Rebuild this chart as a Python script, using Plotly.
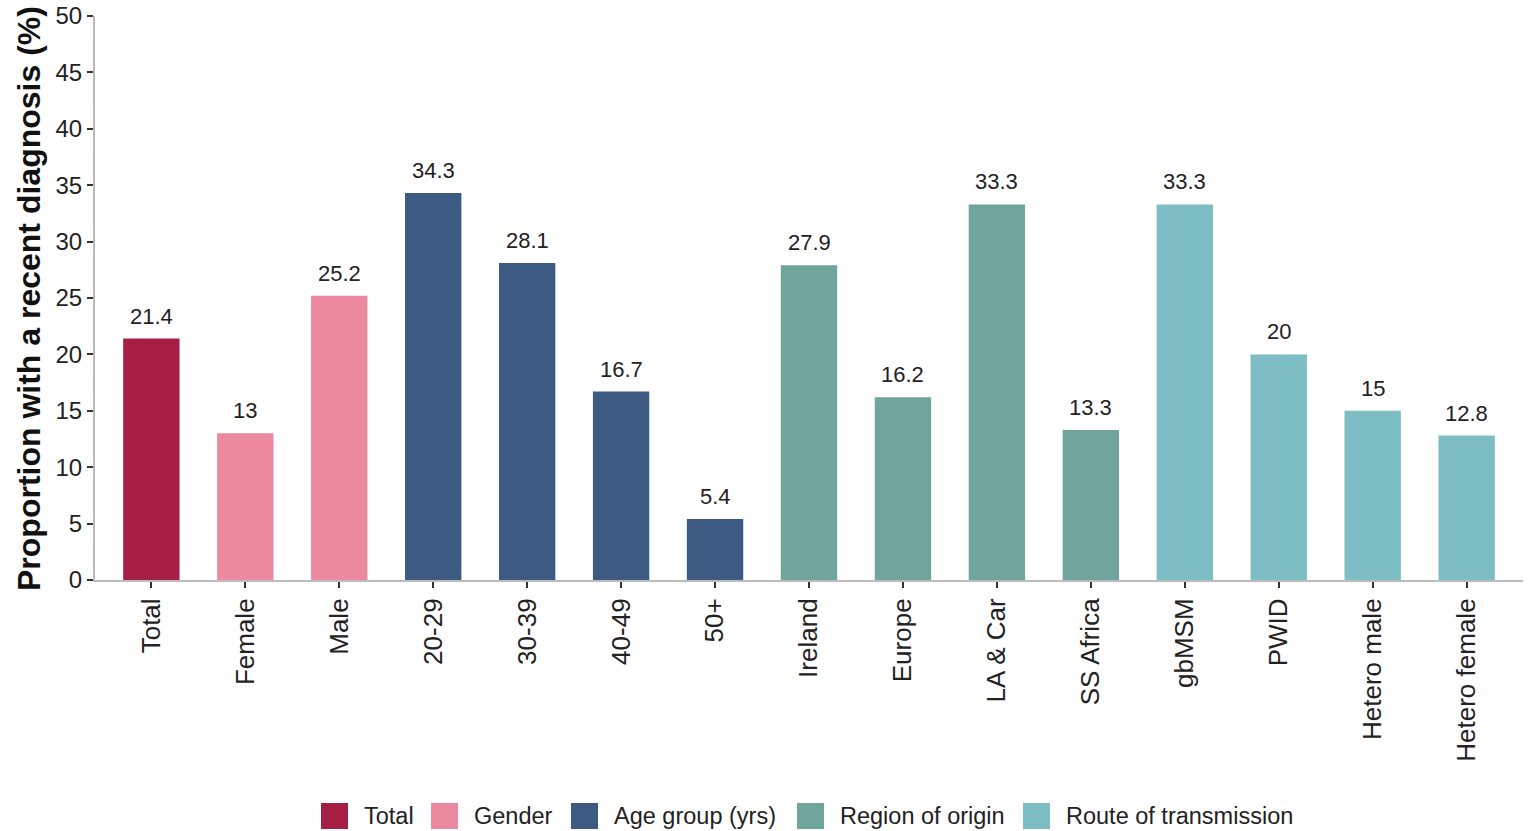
import plotly.graph_objects as go

categories = ["Total", "Female", "Male", "20-29", "30-39", "40-49", "50+",
              "Ireland", "Europe", "LA & Car", "SS Africa", "gbMSM", "PWID",
              "Hetero male", "Hetero female"]
values = [21.4, 13, 25.2, 34.3, 28.1, 16.7, 5.4, 27.9, 16.2, 33.3, 13.3, 33.3, 20, 15, 12.8]
groups = ["Total", "Gender", "Gender", "Age group (yrs)", "Age group (yrs)", "Age group (yrs)",
          "Age group (yrs)", "Region of origin", "Region of origin", "Region of origin",
          "Region of origin", "Route of transmission", "Route of transmission",
          "Route of transmission", "Route of transmission"]
group_order = ["Total", "Gender", "Age group (yrs)", "Region of origin", "Route of transmission"]
colors = {"Total": "#A61E44", "Gender": "#EC88A0", "Age group (yrs)": "#3D5A82",
          "Region of origin": "#6FA59B", "Route of transmission": "#7DBDC4"}
y_ticks = [0, 5, 10, 15, 20, 25, 30, 35, 40, 45, 50]

FONT = "Liberation Sans, Arial, sans-serif"
W, H = 1529, 831
ML, MR, MT = 95, 6, 16
MB = H - 580
PW, PH = W - ML - MR, H - MT - MB

fig = go.Figure()
for g in group_order:
    xs = [c for c, gg in zip(categories, groups) if gg == g]
    ys = [v for v, gg in zip(values, groups) if gg == g]
    fig.add_trace(go.Bar(
        x=xs, y=ys, name=g, marker=dict(color=colors[g], line=dict(width=0)),
        width=0.6, showlegend=False,
    ))

# value labels above bars
for c, v in zip(categories, values):
    fig.add_annotation(x=c, y=v, text=f"{v:g}", showarrow=False, yanchor="bottom",
                       xanchor="center", yshift=8,
                       font=dict(size=22, color="#222222", family=FONT))

# manual legend (large square keys), positions in page pixels
leg_keys_x = [321, 431, 571, 797, 1023]
leg_y = 816
for g, kx in zip(group_order, leg_keys_x):
    fig.add_shape(type="rect", xref="paper", yref="paper",
                  x0=(kx - ML) / PW, x1=(kx + 27 - ML) / PW,
                  y0=(H - MB - (leg_y - 13)) / PH, y1=(H - MB - (leg_y + 13)) / PH,
                  fillcolor=colors[g], line=dict(width=0))
    fig.add_annotation(text=g, xref="paper", yref="paper",
                       x=(kx + 41 - ML) / PW, y=(H - MB - leg_y) / PH,
                       xanchor="left", yanchor="middle", showarrow=False,
                       font=dict(size=23.5, color="#222222", family=FONT))

fig.add_annotation(text="<b>Proportion with a recent diagnosis (%)</b>", xref="paper", yref="paper",
                   x=(29 - ML) / PW, y=(H - MB - 299) / PH, textangle=-90, showarrow=False,
                   xanchor="center", yanchor="middle",
                   font=dict(size=32, color="#111111", family=FONT))

fig.update_layout(
    width=W, height=H, plot_bgcolor="white", paper_bgcolor="white",
    margin=dict(l=ML, r=MR, t=MT, b=MB, autoexpand=False),
    font=dict(family=FONT, size=22, color="#222222"),
    bargap=0.4, showlegend=False,
)
fig.update_xaxes(
    type="category", categoryorder="array", categoryarray=categories,
    range=[-0.6, 14.6], tickangle=-90, showline=True, linecolor="#BBBBBB", linewidth=2,
    ticks="outside", ticklen=6, tickcolor="#333333", tickwidth=2,
    tickfont=dict(size=26, color="#222222"), showgrid=False, automargin=False,
)
fig.update_yaxes(
    range=[0, 50], tickvals=y_ticks, showline=True, linecolor="#BBBBBB", linewidth=2,
    ticks="outside", ticklen=6, tickcolor="#333333", tickwidth=2,
    tickfont=dict(size=24, color="#222222"), showgrid=False, zeroline=False,
    automargin=False, ticklabeloverflow="allow",
)
fig.write_html("out.html", config={"displayModeBar": False},
               post_script="document.body.style.margin='0';document.body.style.overflow='hidden';")
